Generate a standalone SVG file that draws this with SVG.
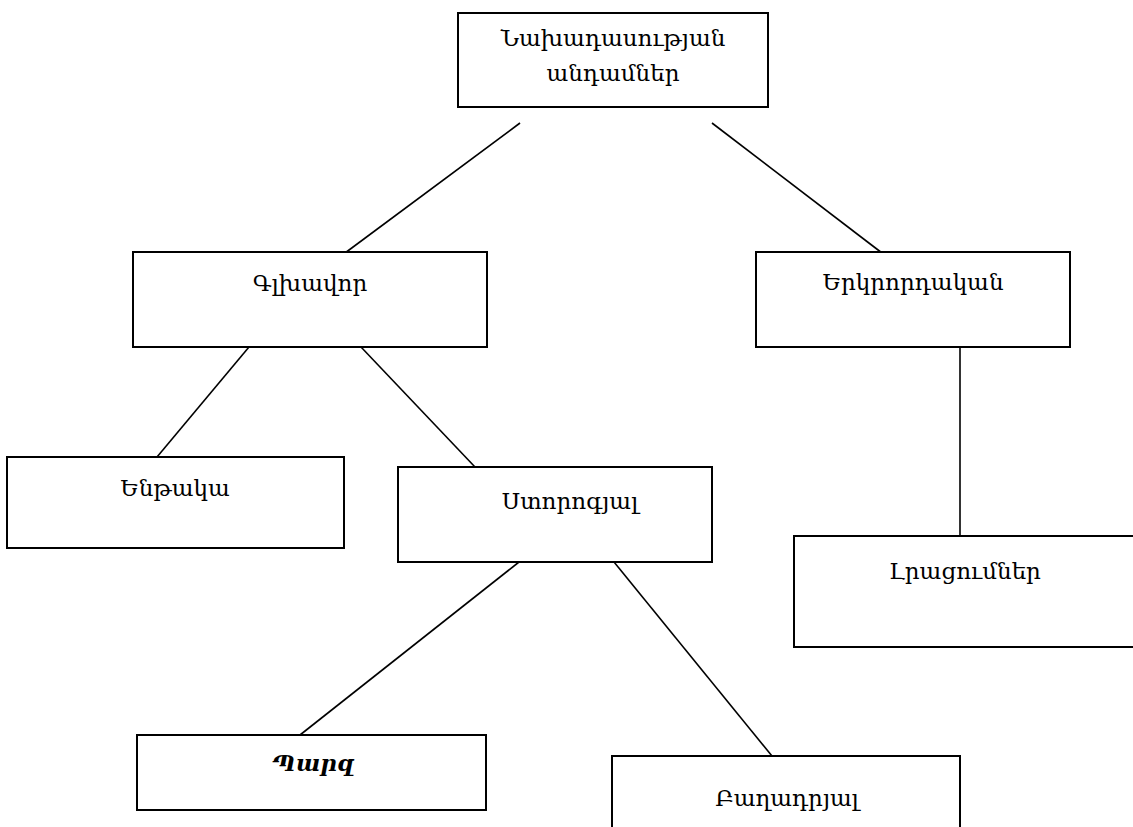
<svg xmlns="http://www.w3.org/2000/svg" width="1133" height="827" viewBox="0 0 1133 827">
<style>
.box{fill:#fff;stroke:#000;stroke-width:2}
.lbl{font-family:"DejaVu Serif","Noto Serif","Noto Sans",serif;font-size:23px;fill:#000;text-anchor:middle}
.bi{font-weight:bold;font-style:italic}
.con line{stroke:#000;stroke-width:1.6}
</style>
<rect width="1133" height="827" fill="#fff"/>
<g id="connectors" class="con">
<line x1="520" y1="123" x2="345" y2="253"/>
<line x1="712" y1="123" x2="882" y2="253"/>
<line x1="249" y1="347" x2="157" y2="457"/>
<line x1="361" y1="347" x2="475" y2="467"/>
<line x1="960" y1="347" x2="960" y2="536"/>
<line x1="519" y1="562" x2="300" y2="735"/>
<line x1="614" y1="562" x2="772" y2="756"/>
</g>
<g id="n-top">
<rect class="box" x="458" y="13" width="310" height="94"/>
<text class="lbl" x="613" y="46">Նախադասության</text>
<text class="lbl" x="613" y="81">անդամներ</text>
</g>
<g id="n-glkhavor">
<rect class="box" x="133" y="252" width="354" height="95"/>
<text class="lbl" x="310" y="291">Գլխավոր</text>
</g>
<g id="n-erkrordakan">
<rect class="box" x="756" y="252" width="314" height="95"/>
<text class="lbl" x="913" y="290">Երկրորդական</text>
</g>
<g id="n-entaka">
<rect class="box" x="7" y="457" width="337" height="91"/>
<text class="lbl" x="175" y="496">Ենթակա</text>
</g>
<g id="n-storogyal">
<rect class="box" x="398" y="467" width="314" height="95"/>
<text class="lbl" x="570" y="509">Ստորոգյալ</text>
</g>
<g id="n-lracumner">
<rect class="box" x="794" y="536" width="360" height="111"/>
<text class="lbl" x="965" y="579">Լրացումներ</text>
</g>
<g id="n-parz">
<rect class="box" x="137" y="735" width="349" height="75"/>
<text class="lbl bi" x="313" y="771">Պարզ</text>
</g>
<g id="n-baxadryal">
<rect class="box" x="612" y="756" width="348" height="90"/>
<text class="lbl" x="787" y="806">Բաղադրյալ</text>
</g>
</svg>
